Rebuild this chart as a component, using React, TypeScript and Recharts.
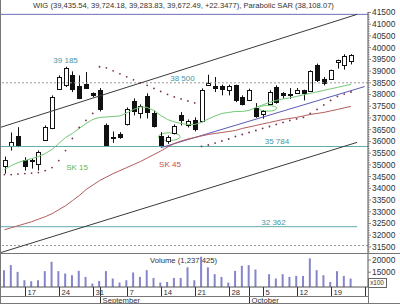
import React from 'react';
import { ComposedChart, Bar, Line, XAxis, YAxis, ReferenceLine, ReferenceArea, ReferenceDot } from 'recharts';

const F = '"Liberation Sans", Arial, sans-serif';

// trading days (two empty slots at the end: 10-23, 10-26)
const days = ['08-12','08-13','08-14','08-17','08-18','08-19','08-20','08-21','08-24','08-25','08-26','08-27','08-28','08-31',
  '09-01','09-02','09-03','09-04','09-07','09-08','09-09','09-10','09-11','09-14','09-15','09-16','09-17','09-18','09-21','09-22','09-23','09-24','09-25','09-28','09-29','09-30',
  '10-01','10-02','10-05','10-06','10-07','10-08','10-09','10-12','10-13','10-14','10-15','10-16','10-19','10-20','10-21','10-22','10-23','10-26'];

const openP = [34969,35798,36252,35225,35182,35042,36081,36564,38250,38421,38848,38361,38463,38061,38177,36710,36160,36308,36753,37706,37223,37942,37223,36252,36038,36368,37137,36680,36924,36864,38391,38348,38348,38207,38391,37890,37749,37420,37180,37608,38318,38061,38040,38079,38177,38147,39246,38647,38677,39387,39246,39435.54];
const highP = [35353,36381,36607,35325,35268,35610,36680,37963,38818,39185,38989,38818,38960,38090,38275,36765,36424,36394,37450,37835,37578,38049,37321,36394,36252,36723,37249,36937,37022,38262,38848,38746,38420,38420,38420,37963,38250,37634,37321,38177,38391,38104,38275,38275,38207,39032,39319,38746,39060,39490,39717,39724.18];
const lowP = [34627,35610,35752,34755,34840,34755,36038,36522,38207,38318,38104,37805,38250,37890,37279,35784,35938,36110,36680,37107,36979,36980,36594,35824,35896,36296,36680,36594,36424,36821,38361,38104,37963,37963,37676,37535,37720,37009,36966,37600,37608,37822,37822,38036,37749,38104,38532,38391,38650,39105,39062,39283.83];
const closeP = [35212,35995,35824,34969,35200,35538,36607,37890,38746,39150,38250,37848,38292,37963,37394,35830,36200,36180,37364,37279,37505,37236,36650,35854,36178,36637,36894,36851,36509,38207,38506,38280,38250,38361,37749,37578,38177,37065,37279,38104,37677,37963,37997,38177,38061,38989,38634,38489,39032,39460,39650,39672.49];
// volume, x100
const volume = [15833,17917,15125,11667,11250,11667,15417,19292,15417,14458,13750,15542,13042,10292,11375,15417,12375,10708,11667,14875,13042,15833,12625,10708,10958,12625,12625,17000,11667,21375,16958,14167,13042,10708,15542,17625,17917,16125,8900,14167,12375,14167,13042,13458,13458,20708,15833,13750,10958,15417,13458,12374];
const sk15 = [34798,34969,35097,35183,35268,35354,35482,35653,35910,36167,36338,36552,36765,36936,37022,37043,37065,37086,37214,37364,37471,37450,37321,37108,36936,36830,36765,36723,36723,36808,36958,37086,37193,37236,37279,37279,37321,37450,37557,37664,37749,37813,37856,37920,37984,38048,38113,38177,38241,38305,38369,38433];
const sk45 = [32232,32317,32403,32488,32574,32681,32788,32916,33087,33258,33472,33686,33943,34135,34328,34477,34627,34755,34884,35012,35140,35290,35440,35589,35760,35910,36017,36103,36167,36231,36295,36338,36380,36423,36466,36552,36616,36680,36744,36808,36872,36936,36979,37022,37086,37150,37193,37236,37300,37364,37428,37493];
const sar = [34584,34584,34606,34627,34648,34670,34755,34884,35183,35611,36124,36594,36894,37193,39185,39139,39011,38883,38754,38626,38498,38391,38262,38134,38006,37899,37813,37728,37642,35784,35846,35931,36017,36103,36209,36295,36380,36466,36552,36637,36723,36808,36894,36958,37022,37193,37364,37557,37749,37920,38020,38108.07];

const mondays = ['08-17','08-24','08-31','09-07','09-14','09-21','09-28','10-05','10-12','10-19','10-26'];
const monthStarts: Record<string, string> = { '09-01': 'September', '10-01': 'October' };
const majorPriceTicks = [31500,32000,32500,33000,33500,34000,34500,35000,35500,36000,36500,37000,37500,38000,38500,39000,39500,40000,40500,41000,41500];
const priceTicks: number[] = [];
for (let v = 31300; v <= 41500; v += 100) priceTicks.push(v);
const volTicks = [15000, 20000];

const PRICE_DOMAIN: [number, number] = [31240, 41520];
const VOL_DOMAIN: [number, number] = [8875, 22500];

const data = days.map((d, i) => ({
  d, i,
  o: openP[i], h: highP[i], l: lowP[i], c: closeP[i],
  hl: highP[i] != null ? [lowP[i], highP[i]] : null,
  v: volume[i] ?? null,
  sk15: sk15[i] ?? null,
  sk45: sk45[i] ?? null,
  sar: sar[i] ?? null,
}));

const Candle = (props: any) => {
  const { x, y, width, height, payload } = props;
  if (!payload || payload.o == null) return null;
  const { o, h, l, c } = payload;
  const range = h - l || 1;
  const toY = (v: number) => y + ((h - v) / range) * height;
  const cx = Math.round(x + width / 2) + 0.5;
  let top = Math.round(toY(Math.max(o, c))) + 0.5;
  let bot = Math.round(toY(Math.min(o, c))) + 0.5;
  const up = c >= o;
  return (
    <g>
      <line x1={cx} x2={cx} y1={y} y2={y + height} stroke="#111" strokeWidth={1} />
      {bot - top < 1 ? (
        <line x1={cx - 2.5} x2={cx + 2.5} y1={top} y2={top} stroke="#111" strokeWidth={1} />
      ) : (
        <rect x={cx - 2} y={top} width={4} height={bot - top} fill={up ? '#fff' : '#111'} stroke="#111" strokeWidth={1} />
      )}
    </g>
  );
};

const PriceTick = (props: any) => {
  const { x, y, payload } = props;
  const v = payload.value;
  const major = majorPriceTicks.includes(v);
  return (
    <g>
      <line x1={x} x2={x + (major ? 3 : 1.5)} y1={y} y2={y} stroke="#666" strokeWidth={0.8} />
      {major && (
        <text x={x + 4} y={y} dy="0.35em" fontSize={8.4} fill="#333" fontFamily={F}>{v}</text>
      )}
    </g>
  );
};

const VolTick = (props: any) => {
  const { x, y, payload } = props;
  return (
    <g>
      <line x1={x} x2={x + 3} y1={y} y2={y} stroke="#666" strokeWidth={0.8} />
      <text x={x + 4} y={y} dy="0.35em" fontSize={8.4} fill="#333" fontFamily={F}>{payload.value}</text>
    </g>
  );
};

const DateTick = (props: any) => {
  const { x, y, payload } = props;
  const d: string = payload.value;
  const isMon = mondays.includes(d);
  const month = monthStarts[d];
  if (!isMon && !month) return null;
  const px = Math.round(x) + 0.5;
  return (
    <svg x={0} y={0} width={367.5} height={60} overflow="hidden">
      {isMon && <line x1={px} x2={px} y1={y} y2={y + 9.5} stroke="#333" strokeWidth={1} />}
      {isMon && (
        <text x={px + 2} y={y + 8} fontSize={7.7} fill="#333" fontFamily={F}>{parseInt(d.slice(3), 10)}</text>
      )}
      {month && <line x1={px} x2={px} y1={y} y2={y + 18} stroke="#333" strokeWidth={1} />}
      {month && (
        <text x={px + 2} y={y + 16.3} fontSize={7.7} fill="#333" fontFamily={F}>{month}</text>
      )}
    </svg>
  );
};

const ellipseShape = (stroke: string) => (p: any) => (
  <ellipse cx={p.x + p.width / 2} cy={p.y + p.height / 2} rx={Math.abs(p.width) / 2} ry={Math.abs(p.height) / 2}
    fill="none" stroke={stroke} strokeWidth={1} />
);

const lbl = (value: string, fill: string, position: any = 'top', offset = 3) => ({
  value, position, offset, fill, fontSize: 8, fontFamily: F,
});

const hl = (style: React.CSSProperties) => <div style={{ position: 'absolute', background: '#777', ...style }} />;

export default function App() {
  return (
    <div style={{ position: 'absolute', left: 0, top: 0, width: 400, height: 304, background: '#fff', overflow: 'hidden', fontFamily: F }}>
      <div style={{ position: 'absolute', left: 0, top: 0, width: 367, height: 12, lineHeight: '12px', textAlign: 'center', fontSize: 7.6, color: '#333', whiteSpace: 'nowrap' }}>
        WIG (39,435.54, 39,724.18, 39,283.83, 39,672.49, +22.3477), Parabolic SAR (38,108.07)
      </div>
      <div style={{ position: 'absolute', left: 150, top: 255.5, fontSize: 7.7, lineHeight: '9px', color: '#333', whiteSpace: 'nowrap' }}>
        Volume (1,237,425)
      </div>

      <div style={{ position: 'absolute', left: 0, top: 0 }}>
        <ComposedChart width={400} height={253} data={data} margin={{ top: 12, right: 0, bottom: 0, left: 1 }}>
          <XAxis dataKey="d" hide />
          <XAxis xAxisId="n" type="number" dataKey="i" domain={[-0.5, 53.5]} hide allowDataOverflow />
          <YAxis orientation="right" width={32} domain={PRICE_DOMAIN} ticks={priceTicks} interval={0}
            tick={<PriceTick />} tickLine={false} tickSize={0} tickMargin={0} axisLine={{ stroke: '#555' }} allowDataOverflow />

          <ReferenceLine y={41420} stroke="#6e6eb6" strokeWidth={1} />
          <ReferenceLine y={38500} stroke="#9a9a9a" strokeDasharray="2 2" />
          <ReferenceLine y={31560} stroke="#9a9a9a" strokeDasharray="2 2" />
          <ReferenceLine y={35784} stroke="#62aaa8" strokeWidth={1} />
          <ReferenceLine xAxisId="n" segment={[{ x: -0.5, y: 32362 }, { x: 51.9, y: 32362 }]} stroke="#62aaa8" strokeWidth={1} />
          <ReferenceLine xAxisId="n" segment={[{ x: -0.5, y: 36606 }, { x: 51.9, y: 41420 }]} stroke="#3a3a3a" strokeWidth={1} />
          <ReferenceLine xAxisId="n" segment={[{ x: -0.5, y: 31260 }, { x: 51.9, y: 35960 }]} stroke="#3a3a3a" strokeWidth={1} />
          <ReferenceLine xAxisId="n" segment={[{ x: 23, y: 35730 }, { x: 53, y: 38340 }]} stroke="#5a5ab6" strokeWidth={1} />

          <Line dataKey="sk45" stroke="#b45c5c" strokeWidth={1} dot={false} isAnimationActive={false} />
          <Line dataKey="sk15" stroke="#74c874" strokeWidth={1} dot={false} isAnimationActive={false} />
          <Line dataKey="sar" stroke="none" dot={{ r: 0.9, fill: '#7a2f4f', stroke: 'none' }} activeDot={false} isAnimationActive={false} />
          <Bar dataKey="hl" barSize={5} shape={(p: any) => <Candle {...p} />} isAnimationActive={false} />

          <ReferenceArea xAxisId="n" x1={22.66} x2={25.86} y1={36038} y2={36368} shape={ellipseShape('#74c874')} />
          <ReferenceArea xAxisId="n" x1={37.4} x2={40.1} y1={37292} y2={37535} shape={ellipseShape('#74c874')} />

          <ReferenceDot xAxisId="n" x={9} y={39185} r={0} fill="none" stroke="none" label={lbl('39 185', '#3f98a8', 'top', 4)} />
          <ReferenceDot xAxisId="n" x={26.2} y={38500} r={0} fill="none" stroke="none" label={lbl('38 500', '#3f98a8', 'top', 2)} />
          <ReferenceDot xAxisId="n" x={40.1} y={35784} r={0} fill="none" stroke="none" label={lbl('35 784', '#3f98a8', 'top', 2)} />
          <ReferenceDot xAxisId="n" x={39.6} y={32362} r={0} fill="none" stroke="none" label={lbl('32 362', '#3f98a8', 'top', 2)} />
          <ReferenceDot xAxisId="n" x={10.7} y={34918} r={0} fill="none" stroke="none" label={lbl('SK 15', '#5cb85c', 'center', 0)} />
          <ReferenceDot xAxisId="n" x={24.36} y={35034} r={0} fill="none" stroke="none" label={lbl('SK 45', '#c24e4e', 'center', 0)} />
        </ComposedChart>
      </div>

      <div style={{ position: 'absolute', left: 0, top: 253 }}>
        <ComposedChart width={400} height={51} data={data} margin={{ top: 1, right: 0, bottom: 0, left: 1 }}>
          <XAxis dataKey="d" interval={0} height={17} tickSize={0} tickMargin={0} tickLine={false}
            axisLine={{ stroke: '#555' }} tick={<DateTick />} />
          <YAxis orientation="right" width={32} domain={VOL_DOMAIN} ticks={volTicks} interval={0}
            tick={<VolTick />} tickLine={false} tickSize={0} tickMargin={0} axisLine={{ stroke: '#555' }} allowDataOverflow />
          <Bar dataKey="v" barSize={2} fill="#8585cc" isAnimationActive={false} />
        </ComposedChart>
      </div>

      <div style={{ position: 'absolute', left: 367.5, top: 278, width: 17, height: 8, border: '1px solid #666', fontSize: 6.3, lineHeight: '8px', color: '#333', textAlign: 'center', background: '#fff' }}>x100</div>

      {hl({ left: 0, top: 0, width: 1, height: 304 })}
      {hl({ left: 0, top: 253, width: 400, height: 1 })}
      {hl({ left: 0, top: 296, width: 367.5, height: 1 })}
      {hl({ left: 0, top: 303, width: 400, height: 1 })}
      {hl({ left: 367.5, top: 287, width: 1, height: 17 })}
    </div>
  );
}
